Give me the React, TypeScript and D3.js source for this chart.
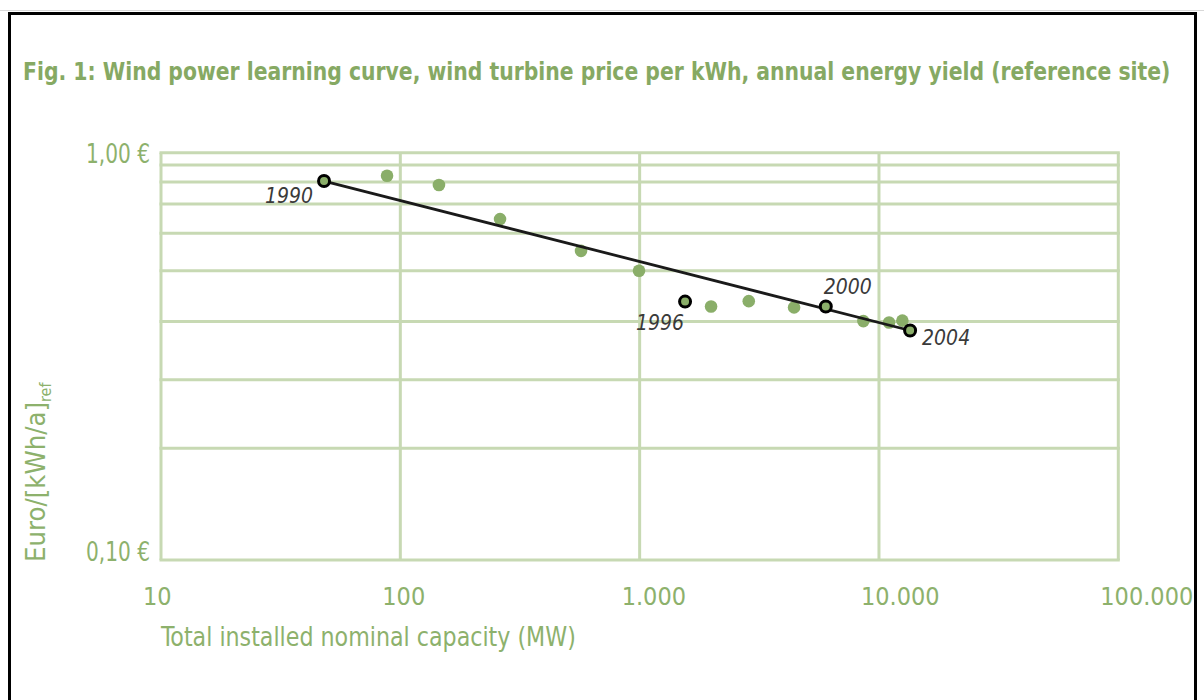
import React, { useLayoutEffect, useRef, useState } from "react";
import * as d3 from "d3";

// ---- data ----
const years = [1990, 1991, 1992, 1993, 1994, 1995, 1996, 1997, 1998, 1999, 2000, 2001, 2002, 2003, 2004];
const capacityMW = [48, 88, 145, 261, 569, 994, 1548, 1988, 2857, 4418, 5995, 8605, 11020, 12525, 13490];
const pricePerKWh = [0.852, 0.878, 0.833, 0.687, 0.574, 0.513, 0.431, 0.419, 0.432, 0.417, 0.419, 0.386, 0.383, 0.387, 0.366];
const highlightedYears = [1990, 1996, 2000, 2004];
const trendYears = [1990, 2004];

const xTicks = [10, 100, 1000, 10000, 100000];
const xTickLabels = ["10", "100", "1.000", "10.000", "100.000"];
const yTicks = [1.0, 0.1];
const yTickLabels = ["1,00 €", "0,10 €"];
const yGridValues = [0.1, 0.188, 0.277, 0.385, 0.513, 0.634, 0.748, 0.847, 0.933, 1.0];

const title = "Fig. 1: Wind power learning curve, wind turbine price per kWh, annual energy yield (reference site)";
const xTitle = "Total installed nominal capacity (MW)";
const yTitleMain = "Euro/[kWh/a]";
const yTitleSub = "ref";

// ---- styles ----
const GREEN_TEXT = "#8db16c";
const GREEN_TITLE = "#86a963";
const GREEN_POINT = "#8aae69";
const GRID = "#c7d9b3";
const NARROW = "'Liberation Sans Narrow', 'DejaVu Sans Condensed', 'Open Sans', sans-serif";

const labelOffsets: Record<number, { dx: number; dy: number; anchor: string }> = {
  1990: { dx: -11, dy: 22, anchor: "end" },
  1996: { dx: -1, dy: 28, anchor: "end" },
  2000: { dx: -2, dy: -13, anchor: "start" },
  2004: { dx: 12, dy: 15, anchor: "start" },
};
const yTickDy = [10, 1];

// text horizontally scaled so that its width equals `width`
function FitText(props: {
  x: number; y: number; width: number; anchor?: "start" | "end"; rotate?: number;
  children: React.ReactNode; [k: string]: any;
}) {
  const { x, y, width, anchor = "start", rotate = 0, children, ...rest } = props;
  const ref = useRef<SVGTextElement>(null);
  const [s, setS] = useState(1);
  useLayoutEffect(() => {
    if (ref.current) {
      const w = ref.current.getComputedTextLength();
      if (w > 0) setS(width / w);
    }
  }, [width]);
  return (
    <text ref={ref} transform={`translate(${x},${y}) rotate(${rotate}) scale(${s},1)`} textAnchor={anchor} {...rest}>
      {children}
    </text>
  );
}

export default function App() {
  const x = d3.scaleLog().domain([10, 100000]).range([161, 1118.3]);
  const y = d3.scaleLog().domain([0.1, 1]).range([560, 152.7]);

  const pts = years.map((yr, i) => ({ yr, cx: x(capacityMW[i]), cy: y(pricePerKWh[i]) }));
  const trendPts = trendYears.map((yr) => {
    const i = years.indexOf(yr);
    return [x(capacityMW[i]), y(pricePerKWh[i])] as [number, number];
  });
  const line = d3.line();

  return (
    <svg width={1204} height={700} style={{ position: "absolute", left: 0, top: 0, background: "#fff" }}>
      <line x1={0} x2={1204} y1={10.5} y2={10.5} stroke="#d8d8d8" strokeWidth={1} />
      <rect x={9.5} y={13.5} width={1186} height={720} fill="none" stroke="#000" strokeWidth={3} />

      <FitText x={23} y={80} width={1148} fill={GREEN_TITLE} fontFamily={NARROW} fontWeight="bold" fontSize={25}>
        {title}
      </FitText>

      {/* horizontal grid */}
      {yGridValues.map((v, i) => (
        <line key={"h" + i} x1={x(10) - 1.5} x2={x(100000) + 1.5} y1={y(v)} y2={y(v)} stroke={GRID} strokeWidth={3} />
      ))}
      {/* vertical grid */}
      {xTicks.map((v, i) => (
        <line key={"v" + i} x1={x(v)} x2={x(v)} y1={y(1)} y2={y(0.1)} stroke={GRID} strokeWidth={3} />
      ))}

      {/* y tick labels */}
      {yTicks.map((v, i) => (
        <FitText key={"yt" + i} x={150} y={y(v) + yTickDy[i]} width={64} anchor="end" fill={GREEN_TEXT}
          fontFamily={NARROW} fontSize={26}>{yTickLabels[i]}</FitText>
      ))}
      {/* x tick labels */}
      {xTicks.map((v, i) => (
        <text key={"xt" + i} x={x(v) - 18} y={605} textAnchor="start" fill={GREEN_TEXT}
          fontFamily={NARROW} fontSize={25}>{xTickLabels[i]}</text>
      ))}

      <FitText x={161} y={646} width={415} fill={GREEN_TEXT} fontFamily={NARROW} fontSize={26}>{xTitle}</FitText>

      <text transform="translate(45,562) rotate(-90)" fill={GREEN_TEXT} fontFamily={NARROW} fontSize={27}>
        <tspan textLength={160} lengthAdjust="spacingAndGlyphs">{yTitleMain}</tspan>
        <tspan fontSize={16} dy={6}>{yTitleSub}</tspan>
      </text>

      {/* regular points */}
      {pts.filter((p) => !highlightedYears.includes(p.yr)).map((p) => (
        <circle key={"p" + p.yr} cx={p.cx} cy={p.cy} r={6.3} fill={GREEN_POINT} />
      ))}

      {/* trend line */}
      <path d={line(trendPts) || ""} stroke="#1a1a1a" strokeWidth={2.8} fill="none" />

      {/* highlighted points */}
      {pts.filter((p) => highlightedYears.includes(p.yr)).map((p) => (
        <g key={"h" + p.yr}>
          <circle cx={p.cx} cy={p.cy} r={5.5} fill={GREEN_POINT} stroke="#000" strokeWidth={3} />
          <text x={p.cx + labelOffsets[p.yr].dx} y={p.cy + labelOffsets[p.yr].dy}
            textAnchor={labelOffsets[p.yr].anchor} fill="#3a3a3a" fontStyle="italic"
            fontFamily={NARROW} fontSize={21}>{p.yr}</text>
        </g>
      ))}
    </svg>
  );
}
